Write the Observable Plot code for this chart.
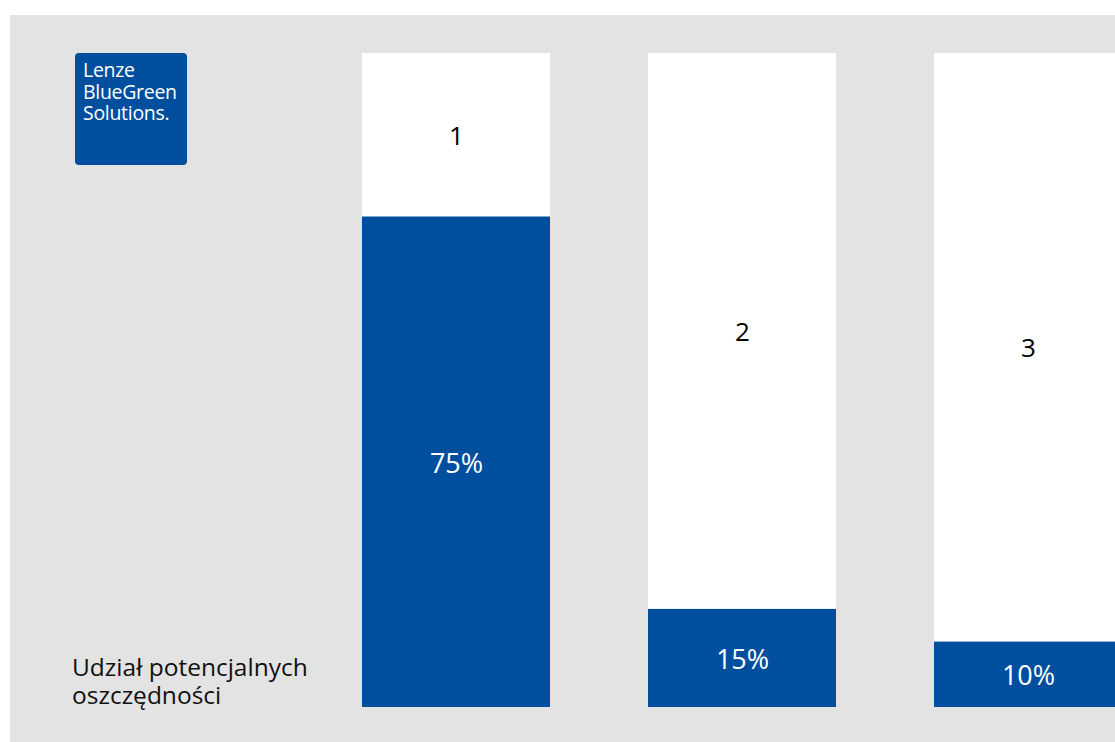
<!DOCTYPE html>
<html>
<head>
<meta charset="utf-8">
<script src="https://cdn.jsdelivr.net/npm/d3@7"></script>
<script src="https://cdn.jsdelivr.net/npm/@observablehq/plot@0.6"></script>
<style>
  html, body { margin: 0; padding: 0; background: #fff; overflow: hidden; width: 1115px; height: 742px; }
  #panel { position: absolute; left: 10px; top: 15px; width: 1115px; height: 727px; background: #e3e3e3; overflow: visible; }
  #chart { position: absolute; left: 0; top: 0; }
  #logo { position: absolute; left: 65px; top: 38px; width: 112px; height: 112px; background: #004f9f; border-radius: 4px;
          box-sizing: border-box; padding: 6px 0 0 8px; color: #fff; font-family: "Open Sans", sans-serif; font-size: 19.5px; letter-spacing: -0.3px; white-space: nowrap; }
  #logo div { height: 21.5px; line-height: 21.5px; }
  #ylabel { position: absolute; left: 62px; top: 638px; color: #111; font-family: "Open Sans", sans-serif; font-size: 24.5px; white-space: nowrap; }
  #ylabel div { height: 28px; line-height: 28px; }
</style>
</head>
<body>
<div id="panel">
  <div id="chart"></div>
  <div id="logo"><div>Lenze</div><div>BlueGreen</div><div>Solutions.</div></div>
  <div id="ylabel"><div>Udział potencjalnych</div><div>oszczędności</div></div>
</div>
<script>
const categories = ["1", "2", "3"];
const shares = [0.75, 0.15, 0.10];
const shareLabels = ["75%", "15%", "10%"];

const data = categories.map((c, i) => ({cat: c, share: shares[i], label: shareLabels[i]}));

const chart = Plot.plot({
  width: 1115,
  height: 727,
  marginLeft: 352,
  marginRight: 3,
  marginTop: 38,
  marginBottom: 35,
  style: {background: "transparent", fontFamily: "Open Sans, sans-serif"},
  x: {type: "band", domain: categories, paddingInner: 0.343, paddingOuter: 0, axis: null},
  y: {domain: [0, 1], axis: null},
  marks: [
    Plot.barY(data, {x: "cat", y: () => 1, fill: "#ffffff"}),
    Plot.barY(data, {x: "cat", y: "share", fill: "#004f9f"}),
    Plot.text(data, {x: "cat", y: d => (1 + d.share) / 2, text: "cat", fill: "#000", fontSize: 26, dy: 1}),
    Plot.text(data, {x: "cat", y: d => d.share / 2, text: "label", fill: "#fff", fontSize: 27, dy: 2})
  ]
});
document.getElementById("chart").appendChild(chart);
</script>
</body>
</html>
